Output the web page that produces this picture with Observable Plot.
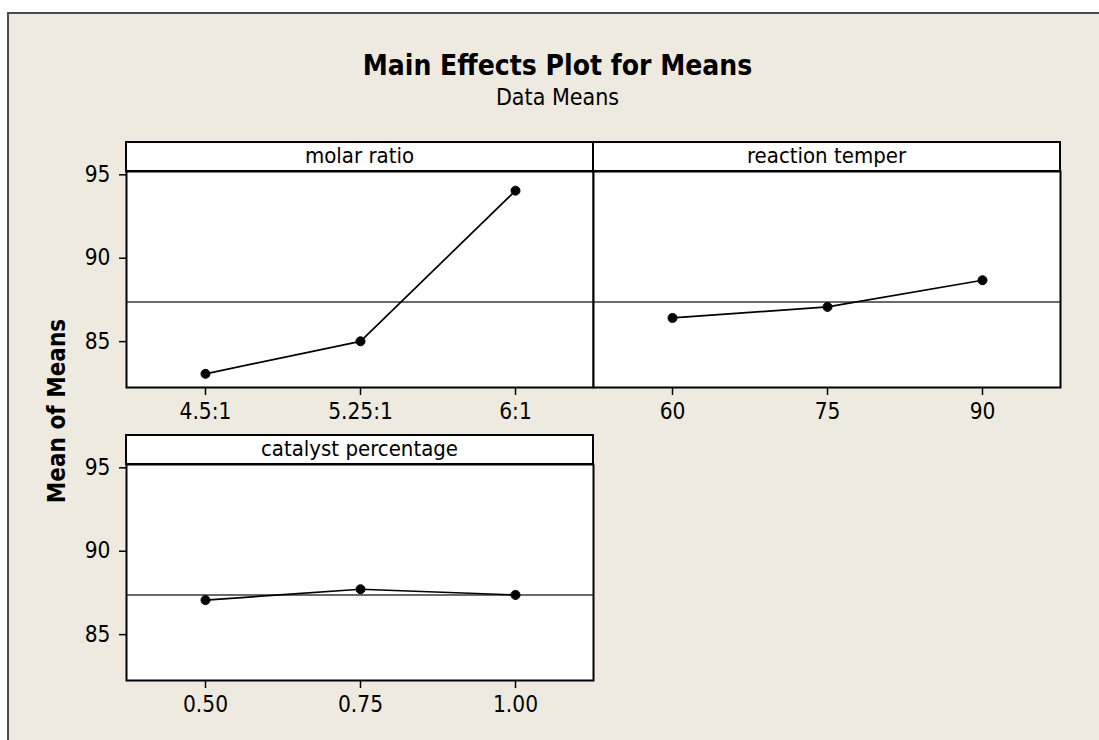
<!DOCTYPE html>
<html>
<head>
<meta charset="utf-8">
<script src="https://cdn.jsdelivr.net/npm/d3@7"></script>
<script src="https://cdn.jsdelivr.net/npm/@observablehq/plot@0.6"></script>
<style>
  html, body { margin: 0; padding: 0; background: #fff; }
  #page { position: relative; width: 1099px; height: 740px; overflow: hidden;
          font-family: "DejaVu Sans Condensed", "DejaVu Sans", sans-serif; color: #000; }
  #window { position: absolute; left: 7px; top: 12px; width: 1120px; height: 760px;
            background: #efeadf; border-top: 2px solid #4a4a4a; border-left: 2px solid #4a4a4a; }
  .centered { position: absolute; left: 0; width: 1115px; text-align: center; white-space: nowrap; line-height: 1; }
  #title { top: 52px; font-size: 28px; font-weight: bold; }
  #subtitle { top: 85.5px; font-size: 23px; }
  #ylabel { position: absolute; left: 57px; top: 411px; font-size: 24px; font-weight: bold; line-height: 1;
            transform: translate(-50%, -50%) rotate(-90deg); white-space: nowrap; }
  .strip { position: absolute; box-sizing: border-box; border: 2px solid #000; background: #fff;
           text-align: center; font-size: 22px; white-space: nowrap; }
  .panel { position: absolute; }
</style>
</head>
<body>
<div id="page">
  <div id="window"></div>
  <div id="title" class="centered">Main Effects Plot for Means</div>
  <div id="subtitle" class="centered">Data Means</div>
  <div id="ylabel">Mean of Means</div>
</div>
<script>
// Factor names (panel strips)
const factors = ["molar ratio", "reaction temper", "catalyst percentage"];

// Factor levels (x tick labels)
const molarLevels = ["4.5:1", "5.25:1", "6:1"];
const temperLevels = ["60", "75", "90"];
const catalystLevels = ["0.50", "0.75", "1.00"];

// Mean response at each level
const molarMeans = [83.07, 85.02, 94.05];
const temperMeans = [86.42, 87.08, 88.68];
const catalystMeans = [87.07, 87.72, 87.38];

// Grand mean (reference line) and y ticks
const grandMean = 87.38;
const yTicks = [85, 90, 95];

const FONT = '"DejaVu Sans Condensed", "DejaVu Sans", sans-serif';
const yDomain = [82.25, 95.2];
const PLOT_W = 467, PLOT_H = 216, STRIP_H = 30;
const M = {left: 70, right: 6, top: 6, bottom: 48};
const page = document.getElementById("page");

function panel(name, levels, means, showY, px, py) {
  const rows = levels.map((level, i) => ({level, mean: means[i]}));
  const chart = Plot.plot({
    width: M.left + PLOT_W + M.right,
    height: M.top + PLOT_H + M.bottom,
    marginLeft: M.left, marginRight: M.right, marginTop: M.top, marginBottom: M.bottom,
    style: {background: "transparent", fontFamily: FONT, fontSize: "22.5px", color: "#000", overflow: "visible"},
    x: {type: "point", domain: levels, padding: 0.5, label: null},
    y: showY ? {domain: yDomain, label: null} : {domain: yDomain, label: null, axis: null},
    marks: [
      Plot.frame({fill: "#fff", stroke: "none"}),
      Plot.ruleY([grandMean], {stroke: "#3a3a3a", strokeWidth: 1.5}),
      Plot.line(rows, {x: "level", y: "mean", stroke: "#000", strokeWidth: 1.7}),
      Plot.dot(rows, {x: "level", y: "mean", r: 4.5, fill: "#000", stroke: "#000", strokeWidth: 1}),
      Plot.frame({stroke: "#000", strokeWidth: 2}),
      Plot.axisX({tickSize: 8, tickPadding: 8, label: null, strokeWidth: 1.5}),
      showY ? Plot.axisY({ticks: yTicks, tickSize: 7, tickPadding: 9, label: null, strokeWidth: 1.5}) : null
    ]
  });
  chart.classList.add("panel");
  chart.style.left = (px - M.left) + "px";
  chart.style.top = (py - M.top) + "px";
  page.appendChild(chart);

  const strip = document.createElement("div");
  strip.className = "strip";
  strip.textContent = name;
  strip.style.left = (px - 1) + "px";
  strip.style.top = (py - STRIP_H) + "px";
  strip.style.width = (PLOT_W + 2) + "px";
  strip.style.height = (STRIP_H + 1) + "px";
  strip.style.lineHeight = (STRIP_H - 5) + "px";
  page.appendChild(strip);
}

panel(factors[0], molarLevels, molarMeans, true, 126, 171);
panel(factors[1], temperLevels, temperMeans, false, 593, 171);
panel(factors[2], catalystLevels, catalystMeans, true, 126, 464);
</script>
</body>
</html>
